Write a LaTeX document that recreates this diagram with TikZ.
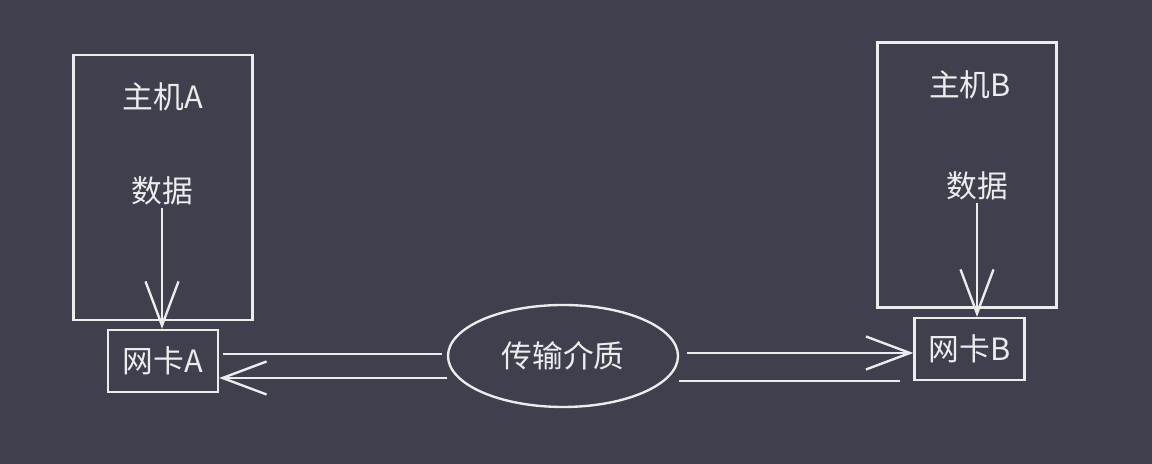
\documentclass[tikz,border=0pt]{standalone}
\usepackage{fontspec}
\newfontfamily\cjk{Noto Sans CJK SC}
\usepackage{xcolor}
\usetikzlibrary{shapes,arrows.meta,positioning,calc}
\definecolor{board}{RGB}{62,64,77}
\definecolor{chalk}{RGB}{236,236,236}

\begin{document}
\begin{tikzpicture}[
    color=chalk, line width=1.35pt,
    every node/.style={font=\cjk\fontsize{17.5}{21}\selectfont},
    hostbox/.style={draw, minimum width=3.58cm, minimum height=5.3cm},
    nicbox/.style={draw, minimum width=2.2cm, minimum height=1.24cm},
    sketch arrow/.style={-{Straight Barb[length=0.88cm, width=0.66cm]}}
]
    \fill[board] (0,0) rectangle (23.04,9.28);

    \node[hostbox] (hostA) at (3.26,5.53) {};
    \node (titleA) at (3.26,7.34) {主机A};
    \node[inner sep=1pt] (dataA) at (3.24,5.46) {数据};
    \node[nicbox] (nicA) at (3.26,2.06) {网卡A};

    \node[hostbox] (hostB) at (19.34,5.78) {};
    \node (titleB) at (19.40,7.58) {主机B};
    \node[inner sep=1pt] (dataB) at (19.54,5.56) {数据};
    \node[nicbox] (nicB) at (19.39,2.30) {网卡B};

    \node[draw, ellipse, minimum width=4.6cm, minimum height=2.04cm] (medium) at (11.26,2.16) {传输介质};

    \draw[sketch arrow] (dataA.south) -- (dataA.south |- nicA.north);
    \draw[sketch arrow] (dataB.south) -- (dataB.south |- nicB.north);

    \draw[shorten <=0.08cm, shorten >=0.1cm] (nicA.east |- 0,2.2) -- (medium.west |- 0,2.2);
    \draw[sketch arrow] (medium.west |- 0,1.72) -- (nicA.east |- 0,1.72);

    \draw[sketch arrow, shorten <=0.16cm] (medium.east |- 0,2.22) -- (nicB.west |- 0,2.22);
    \draw[shorten >=0.26cm] (medium.east |- 0,1.66) -- (nicB.west |- 0,1.66);
\end{tikzpicture}
\end{document}
